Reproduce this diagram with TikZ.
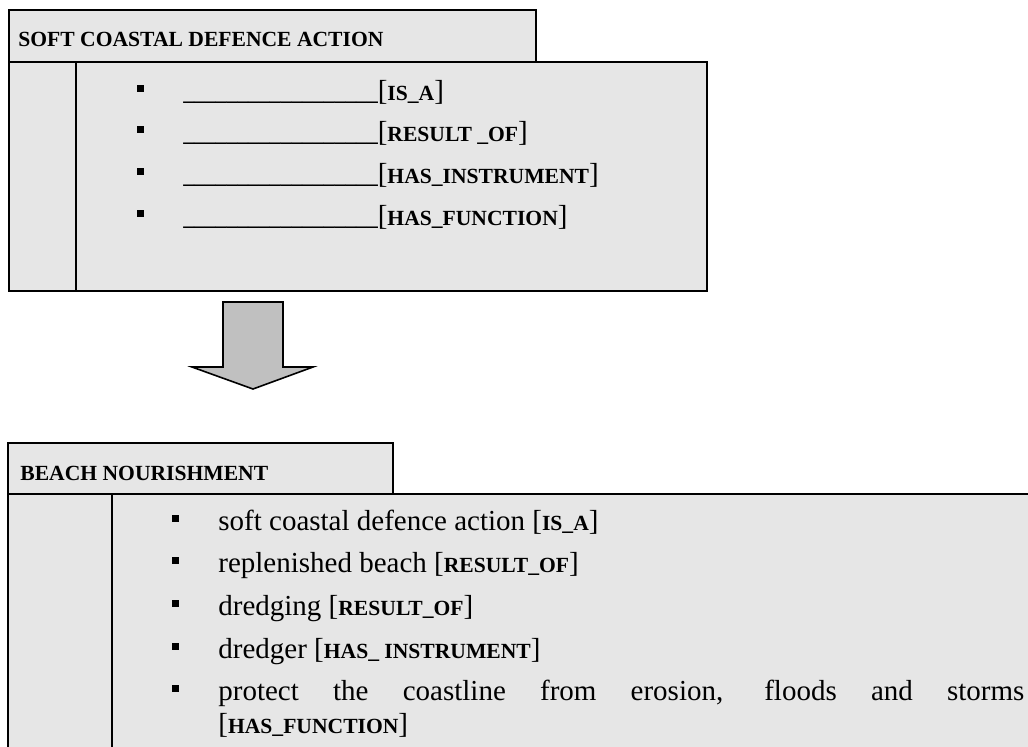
\documentclass[tikz,border=0pt]{standalone}
\usepackage{fontspec}
\setmainfont{Liberation Serif}
\usepackage{xcolor}
\usepackage{tikz}
\usetikzlibrary{positioning}
\definecolor{panelgray}{HTML}{E6E6E6}
\definecolor{arrowgray}{HTML}{C0C0C0}
\newcommand{\rel}[1]{[{\fontsize{10.8}{13}\selectfont\bfseries #1}]}
\newcommand{\blank}{{\fontsize{10.8}{13}\selectfont\bfseries\_\_\_\_\_\_\_\_\_\_\_\_\_\_\_\_\_\_}}
\newcommand{\sqbullet}{\makebox[23pt][l]{\raisebox{4.2pt}{\rule{3.5pt}{3.5pt}}}}
\tikzset{
  panel/.style={draw,fill=panelgray,line width=1.2pt,line join=miter},
  divider/.style={draw,line width=1.2pt},
  heading/.style={anchor=base west,inner sep=0pt,font=\fontsize{10.8}{13}\selectfont\bfseries},
  entry/.style={anchor=base west,inner sep=0pt,font=\fontsize{14.5}{16.5}\selectfont},
  blockarrow/.style={draw,fill=arrowgray,line width=0.8pt,line join=miter}
}
\begin{document}
\begin{tikzpicture}[x=0.5pt,y=-0.5pt]
  \useasboundingbox (0,0) rectangle (1028,746);
  \clip (0,0) rectangle (1028,746);
  % general concept
  \draw[panel] (9,62) rectangle (707,291);
  \draw[panel] (9,10) rectangle (536,62);
  \draw[divider] (76,62) -- (76,291);
  \node[heading] (softhead) at (18,46) {SOFT COASTAL DEFENCE ACTION};
  \node[entry] (s1) at (137,100) {\sqbullet\blank\rel{IS\_A}};
  \node[entry] (s2) at (137,141) {\sqbullet\blank\rel{RESULT \_OF}};
  \node[entry] (s3) at (137,183) {\sqbullet\blank\rel{HAS\_INSTRUMENT}};
  \node[entry] (s4) at (137,225) {\sqbullet\blank\rel{HAS\_FUNCTION}};
  % block arrow
  \draw[blockarrow] (223,302) -- (283,302) -- (283,367) -- (313,367) -- (253,389)
    -- (192,367) -- (223,367) -- cycle;
  % specific concept
  \draw[panel] (8,494) rectangle (1060,780);
  \draw[panel] (8,443) rectangle (393,494);
  \draw[divider] (112,494) -- (112,780);
  \node[heading] (beachhead) at (20,480) {BEACH NOURISHMENT};
  \node[entry] (b1) at (172,530) {\sqbullet soft coastal defence action \rel{IS\_A}};
  \node[entry] (b2) at (172,572) {\sqbullet replenished beach \rel{RESULT\_OF}};
  \node[entry] (b3) at (172,615) {\sqbullet dredging \rel{RESULT\_OF}};
  \node[entry] (b4) at (172,658) {\sqbullet dredger \rel{HAS\_ INSTRUMENT}};
  \node[entry] (b5) at (172,700) {\sqbullet\parbox[t]{403pt}{protect the coastline from erosion, floods and storms\linebreak\rel{HAS\_FUNCTION}}};
\end{tikzpicture}
\end{document}
